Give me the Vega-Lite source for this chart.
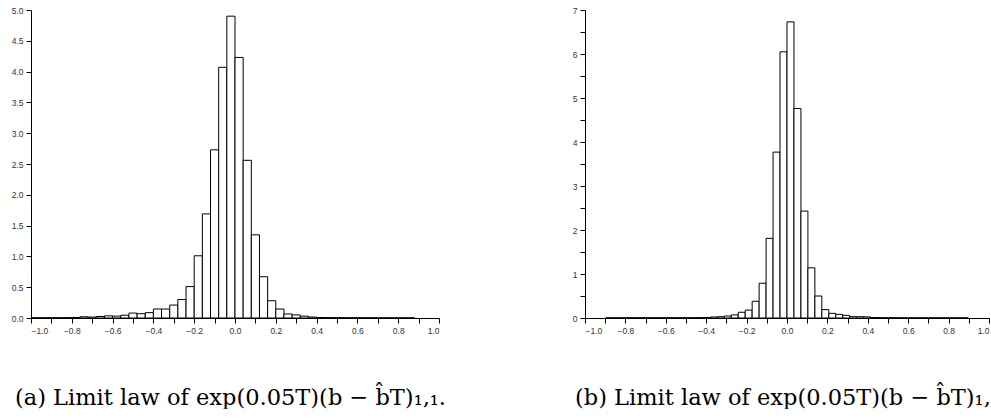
{
  "$schema": "https://vega.github.io/schema/vega-lite/v6.json",
  "padding": {"left": 11, "top": 6, "right": 0, "bottom": 0},
  "background": "white",
  "bounds": "flush",
  "spacing": 146,
  "config": {
    "view": {"stroke": null},
    "axis": {
      "domainColor": "#000", "tickColor": "#000", "labelColor": "#333",
      "labelFont": "Liberation Sans", "labelFontSize": 8.5,
      "grid": false, "tickSize": 5, "labelPadding": 3,
      "domainWidth": 1, "tickWidth": 1, "title": null
    },
    "title": {"font": "DejaVu Serif", "fontSize": 22.5, "fontWeight": "normal", "color": "#000", "orient": "bottom", "anchor": "start", "frame": "group", "offset": 52}
  },
  "datasets": {
    "left": [
      {"lo": -1.00, "hi": -0.96, "density": 0.004},
      {"lo": -0.96, "hi": -0.92, "density": 0.004},
      {"lo": -0.92, "hi": -0.88, "density": 0.005},
      {"lo": -0.88, "hi": -0.84, "density": 0.005},
      {"lo": -0.84, "hi": -0.80, "density": 0.006},
      {"lo": -0.80, "hi": -0.76, "density": 0.008},
      {"lo": -0.76, "hi": -0.72, "density": 0.02},
      {"lo": -0.72, "hi": -0.68, "density": 0.015},
      {"lo": -0.68, "hi": -0.64, "density": 0.025},
      {"lo": -0.64, "hi": -0.60, "density": 0.035},
      {"lo": -0.60, "hi": -0.56, "density": 0.03},
      {"lo": -0.56, "hi": -0.52, "density": 0.045},
      {"lo": -0.52, "hi": -0.48, "density": 0.08},
      {"lo": -0.48, "hi": -0.44, "density": 0.07},
      {"lo": -0.44, "hi": -0.40, "density": 0.087},
      {"lo": -0.40, "hi": -0.36, "density": 0.146},
      {"lo": -0.36, "hi": -0.32, "density": 0.146},
      {"lo": -0.32, "hi": -0.28, "density": 0.21},
      {"lo": -0.28, "hi": -0.24, "density": 0.30},
      {"lo": -0.24, "hi": -0.20, "density": 0.51},
      {"lo": -0.20, "hi": -0.16, "density": 1.01},
      {"lo": -0.16, "hi": -0.12, "density": 1.69},
      {"lo": -0.12, "hi": -0.08, "density": 2.73},
      {"lo": -0.08, "hi": -0.04, "density": 4.07},
      {"lo": -0.04, "hi": 0.00, "density": 4.90},
      {"lo": 0.00, "hi": 0.04, "density": 4.23},
      {"lo": 0.04, "hi": 0.08, "density": 2.56},
      {"lo": 0.08, "hi": 0.12, "density": 1.35},
      {"lo": 0.12, "hi": 0.16, "density": 0.67},
      {"lo": 0.16, "hi": 0.20, "density": 0.28},
      {"lo": 0.20, "hi": 0.24, "density": 0.146},
      {"lo": 0.24, "hi": 0.28, "density": 0.065},
      {"lo": 0.28, "hi": 0.32, "density": 0.05},
      {"lo": 0.32, "hi": 0.36, "density": 0.03},
      {"lo": 0.36, "hi": 0.40, "density": 0.015},
      {"lo": 0.40, "hi": 0.44, "density": 0.008},
      {"lo": 0.44, "hi": 0.48, "density": 0.006},
      {"lo": 0.48, "hi": 0.52, "density": 0.005},
      {"lo": 0.52, "hi": 0.56, "density": 0.005},
      {"lo": 0.56, "hi": 0.60, "density": 0.004},
      {"lo": 0.60, "hi": 0.64, "density": 0.004},
      {"lo": 0.64, "hi": 0.68, "density": 0.004},
      {"lo": 0.68, "hi": 0.72, "density": 0.003},
      {"lo": 0.72, "hi": 0.76, "density": 0.003},
      {"lo": 0.76, "hi": 0.80, "density": 0.003},
      {"lo": 0.80, "hi": 0.84, "density": 0.003},
      {"lo": 0.84, "hi": 0.88, "density": 0.003}
    ],
    "right": [
      {"lo": -0.897, "hi": -0.8625, "density": 0.004},
      {"lo": -0.8625, "hi": -0.828, "density": 0.004},
      {"lo": -0.828, "hi": -0.7935, "density": 0.005},
      {"lo": -0.7935, "hi": -0.759, "density": 0.006},
      {"lo": -0.759, "hi": -0.7245, "density": 0.006},
      {"lo": -0.7245, "hi": -0.69, "density": 0.005},
      {"lo": -0.69, "hi": -0.6555, "density": 0.005},
      {"lo": -0.6555, "hi": -0.621, "density": 0.005},
      {"lo": -0.621, "hi": -0.5865, "density": 0.005},
      {"lo": -0.5865, "hi": -0.552, "density": 0.005},
      {"lo": -0.552, "hi": -0.5175, "density": 0.006},
      {"lo": -0.5175, "hi": -0.483, "density": 0.006},
      {"lo": -0.483, "hi": -0.4485, "density": 0.007},
      {"lo": -0.4485, "hi": -0.414, "density": 0.008},
      {"lo": -0.414, "hi": -0.3795, "density": 0.012},
      {"lo": -0.3795, "hi": -0.345, "density": 0.023},
      {"lo": -0.345, "hi": -0.3105, "density": 0.03},
      {"lo": -0.3105, "hi": -0.276, "density": 0.045},
      {"lo": -0.276, "hi": -0.2415, "density": 0.07},
      {"lo": -0.2415, "hi": -0.207, "density": 0.13},
      {"lo": -0.207, "hi": -0.1725, "density": 0.18},
      {"lo": -0.1725, "hi": -0.138, "density": 0.38},
      {"lo": -0.138, "hi": -0.1035, "density": 0.79},
      {"lo": -0.1035, "hi": -0.069, "density": 1.81},
      {"lo": -0.069, "hi": -0.0345, "density": 3.77},
      {"lo": -0.0345, "hi": 0.0, "density": 6.05},
      {"lo": 0.0, "hi": 0.0345, "density": 6.73},
      {"lo": 0.0345, "hi": 0.069, "density": 4.76},
      {"lo": 0.069, "hi": 0.1035, "density": 2.43},
      {"lo": 0.1035, "hi": 0.138, "density": 1.14},
      {"lo": 0.138, "hi": 0.1725, "density": 0.50},
      {"lo": 0.1725, "hi": 0.207, "density": 0.19},
      {"lo": 0.207, "hi": 0.2415, "density": 0.106},
      {"lo": 0.2415, "hi": 0.276, "density": 0.083},
      {"lo": 0.276, "hi": 0.3105, "density": 0.06},
      {"lo": 0.3105, "hi": 0.345, "density": 0.03},
      {"lo": 0.345, "hi": 0.3795, "density": 0.03},
      {"lo": 0.3795, "hi": 0.414, "density": 0.025},
      {"lo": 0.414, "hi": 0.4485, "density": 0.01},
      {"lo": 0.4485, "hi": 0.483, "density": 0.008},
      {"lo": 0.483, "hi": 0.5175, "density": 0.005},
      {"lo": 0.5175, "hi": 0.552, "density": 0.005},
      {"lo": 0.552, "hi": 0.5865, "density": 0.004},
      {"lo": 0.5865, "hi": 0.621, "density": 0.004},
      {"lo": 0.621, "hi": 0.6555, "density": 0.004},
      {"lo": 0.6555, "hi": 0.69, "density": 0.004},
      {"lo": 0.69, "hi": 0.7245, "density": 0.004},
      {"lo": 0.7245, "hi": 0.759, "density": 0.004},
      {"lo": 0.759, "hi": 0.7935, "density": 0.003},
      {"lo": 0.7935, "hi": 0.828, "density": 0.003},
      {"lo": 0.828, "hi": 0.8625, "density": 0.003},
      {"lo": 0.8625, "hi": 0.897, "density": 0.003}
    ]
  },
  "hconcat": [
    {
      "width": 408,
      "height": 308,
      "title": {"text": "(a) Limit law of exp(0.05T)(b − b̂T)₁,₁.", "dx": -16},
      "data": {"name": "left"},
      "mark": {"type": "bar", "fill": "white", "stroke": "black", "strokeWidth": 1},
      "encoding": {
        "x": {"field": "lo", "type": "quantitative",
              "scale": {"domain": [-1, 1], "nice": false, "zero": false},
              "axis": {"values": [-1, -0.9, -0.8, -0.7, -0.6, -0.5, -0.4, -0.3, -0.2, -0.1, 0, 0.1, 0.2, 0.3, 0.4, 0.5, 0.6, 0.7, 0.8, 0.9, 1],
                       "labelExpr": "abs(round(datum.value*10)) % 2 == 0 ? format(datum.value, '.1f') : ''"}},
        "x2": {"field": "hi"},
        "y": {"field": "density", "type": "quantitative",
              "scale": {"domain": [0, 5], "nice": false},
              "axis": {"values": [0, 0.5, 1, 1.5, 2, 2.5, 3, 3.5, 4, 4.5, 5], "format": ".1f"}},
        "y2": {"datum": 0}
      }
    },
    {
      "width": 404,
      "height": 308,
      "title": {"text": "(b) Limit law of exp(0.05T)(b − b̂T)₁,₂.", "dx": -10},
      "data": {"name": "right"},
      "mark": {"type": "bar", "fill": "white", "stroke": "black", "strokeWidth": 1},
      "encoding": {
        "x": {"field": "lo", "type": "quantitative",
              "scale": {"domain": [-1, 1], "nice": false, "zero": false},
              "axis": {"values": [-1, -0.9, -0.8, -0.7, -0.6, -0.5, -0.4, -0.3, -0.2, -0.1, 0, 0.1, 0.2, 0.3, 0.4, 0.5, 0.6, 0.7, 0.8, 0.9, 1],
                       "labelExpr": "abs(round(datum.value*10)) % 2 == 0 ? format(datum.value, '.1f') : ''"}},
        "x2": {"field": "hi"},
        "y": {"field": "density", "type": "quantitative",
              "scale": {"domain": [0, 7], "nice": false},
              "axis": {"values": [0, 0.5, 1, 1.5, 2, 2.5, 3, 3.5, 4, 4.5, 5, 5.5, 6, 6.5, 7],
                       "labelExpr": "datum.value % 1 == 0 ? format(datum.value, 'd') : ''"}},
        "y2": {"datum": 0}
      }
    }
  ]
}
